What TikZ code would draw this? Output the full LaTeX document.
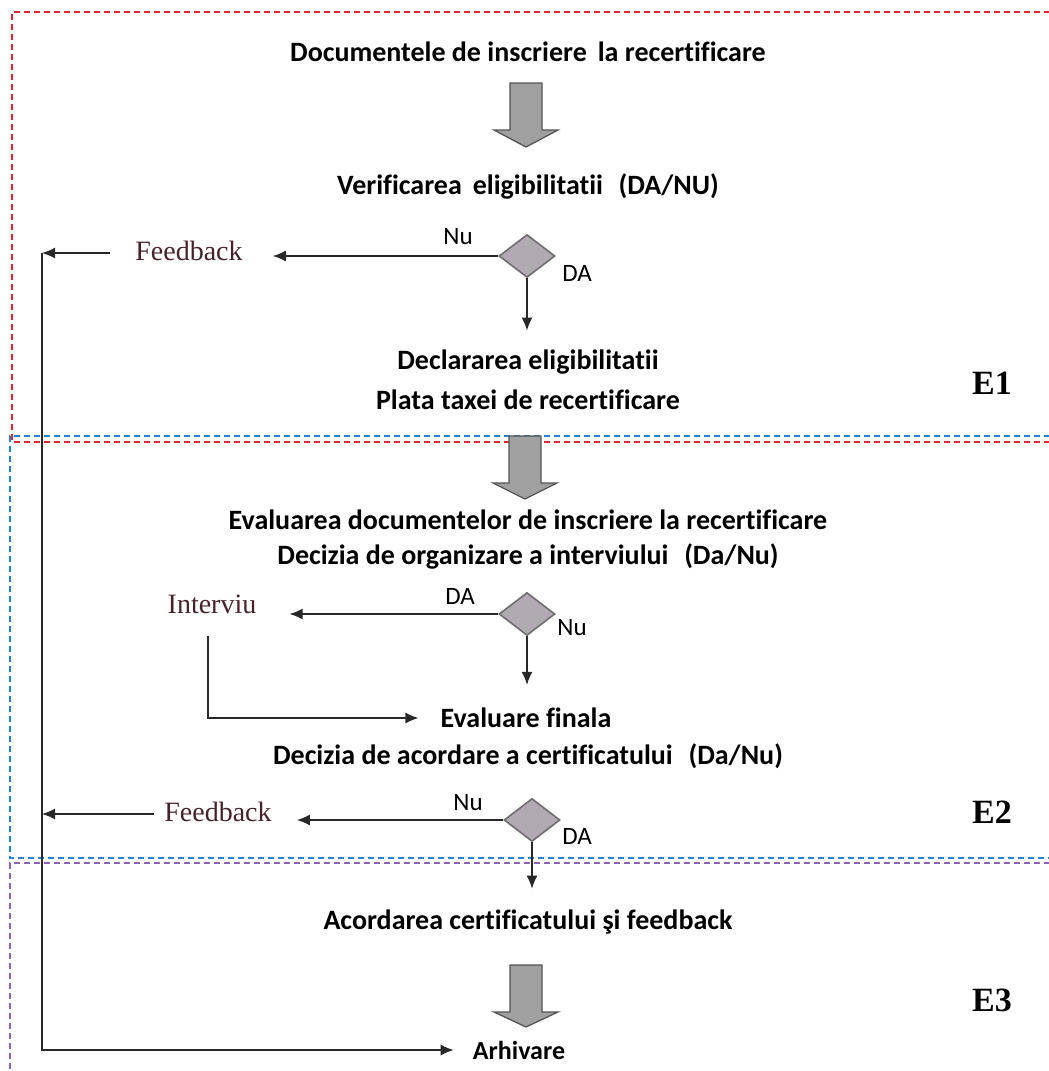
\documentclass[tikz,border=0pt]{standalone}
\usepackage{fontspec}
\setmainfont{Carlito}[Ligatures=NoCommon]
\newfontfamily\seriff{Liberation Serif}
\usetikzlibrary{shapes.geometric,arrows.meta}
\definecolor{redd}{RGB}{225,40,50}
\definecolor{blued}{RGB}{40,130,210}
\definecolor{purpled}{RGB}{140,100,180}
\definecolor{diamondfill}{RGB}{178,170,178}
\definecolor{diamondedge}{RGB}{110,110,110}
\definecolor{arrowfill}{RGB}{160,160,160}
\definecolor{arrowedge}{RGB}{85,85,85}
\definecolor{lineblack}{RGB}{40,40,40}
\definecolor{maroon}{RGB}{70,35,42}
\newcommand\blockarrow[4]{%
  \draw[barrow] ({#1-16},#2) -- ({#1+16},#2) -- ({#1+16},#3) -- ({#1+32},#3) -- (#1,#4) -- ({#1-32},#3) -- ({#1-16},#3) -- cycle;}
\begin{document}
\begin{tikzpicture}[x=1pt,y=-1pt,
  txt/.style={inner sep=0pt,font=\fontsize{28}{32}\selectfont\bfseries},
  lbl/.style={inner sep=0pt,font=\fontsize{25}{28}\selectfont},
  fbtxt/.style={inner sep=0pt,text=maroon,font=\seriff\fontsize{28}{32}\selectfont},
  stage/.style={inner sep=0pt,font=\seriff\bfseries\fontsize{34}{38}\selectfont},
  dec/.style={diamond,draw=diamondedge,fill=diamondfill,line width=1.6pt,minimum width=56pt,minimum height=43pt,inner sep=0pt},
  conn/.style={line width=1.5pt,draw=lineblack},
  arr/.style={conn,-{Latex[length=13pt,width=11pt]}},
  barrow/.style={fill=arrowfill,draw=arrowedge,line width=1.3pt,line join=miter},
  frame/.style={line width=1.6pt,dash pattern=on 6pt off 4pt}
]
\useasboundingbox (0,0) rectangle (1049,1071);
% stage frames
\draw[frame,draw=redd] (1060,12) -- (12,12) -- (12,442) -- (1060,442);
\draw[frame,draw=blued] (1060,436) -- (10,436) -- (10,858) -- (1060,858);
\draw[frame,draw=purpled] (1060,863) -- (10,863) -- (10,1080);
% block arrows
\blockarrow{526}{83}{130}{147}
\blockarrow{525}{436}{483}{499}
\blockarrow{526}{965}{1012}{1027}
% texts
\node[txt] (doc) at (528,52) {Documentele de inscriere\, la recertificare};
\node[txt] (ver) at (528,186) {Verificarea\, eligibilitatii\, \,(DA/NU)};
\node[txt] (decl1) at (528,362) {Declararea eligibilitatii};
\node[txt] (decl2) at (528,400) {Plata taxei de recertificare};
\node[txt] (eval1) at (528,520) {Evaluarea documentelor de inscriere la recertificare};
\node[txt] (eval2) at (528,556) {Decizia de organizare a interviului\, \,(Da/Nu)};
\node[txt] (evf) at (526,718) {Evaluare finala};
\node[txt] (dec2) at (528,756) {Decizia de acordare a certificatului\, \,(Da/Nu)};
\node[txt] (acord) at (528,922) {Acordarea certificatului şi feedback};
\node[txt,font=\fontsize{26}{30}\selectfont\bfseries] (arh) at (519,1050) {Arhivare};
\node[stage] (e1) at (992,383) {E1};
\node[stage] (e2) at (992,812) {E2};
\node[stage] (e3) at (992,1000) {E3};
\node[fbtxt] (fb1) at (189,251) {Feedback};
\node[fbtxt] (fb2) at (218,812) {Feedback};
\node[fbtxt] (intv) at (212,604) {Interviu};
% decisions
\node[dec] (d1) at (527,256) {};
\node[dec] (d2) at (527,614) {};
\node[dec] (d3) at (532,820) {};
\node[lbl] (nu1) at (458,237) {Nu};
\node[lbl] (da1) at (577,273) {DA};
\node[lbl] (da2) at (460,596) {DA};
\node[lbl] (nu2) at (572,628) {Nu};
\node[lbl] (nu3) at (468,803) {Nu};
\node[lbl] (da3) at (577,836) {DA};
% connectors
\coordinate (L1) at (42,253);
\coordinate (L2) at (42,814);
\coordinate (L3) at (42,1050);
\draw[arr,shorten >=30pt] (d1.west) -- (d1.west -| fb1.east);
\draw[arr,shorten <=25pt] (fb1.west |- L1) -- (L1);
\draw[arr,shorten >=19pt] (d1.south) -- (d1.south |- decl1.north);
\draw[arr,shorten >=33pt] (d2.west) -- (d2.west -| intv.east);
\draw[arr,shorten >=23pt] (d2.south) -- (d2.south |- evf.north);
\draw[arr,shorten <=22pt,shorten >=22pt] ([xshift=-4pt]intv.south) |- (evf.west);
\draw[arr,shorten >=25pt] (d3.west) -- (d3.west -| fb2.east);
\draw[arr,shorten <=10pt] (fb2.west |- L2) -- (L2);
\draw[arr,shorten >=21pt] (d3.south) -- (d3.south |- acord.north);
\draw[arr,shorten >=19pt] (L1) -- (L3) -- (arh.west);
\end{tikzpicture}
\end{document}
